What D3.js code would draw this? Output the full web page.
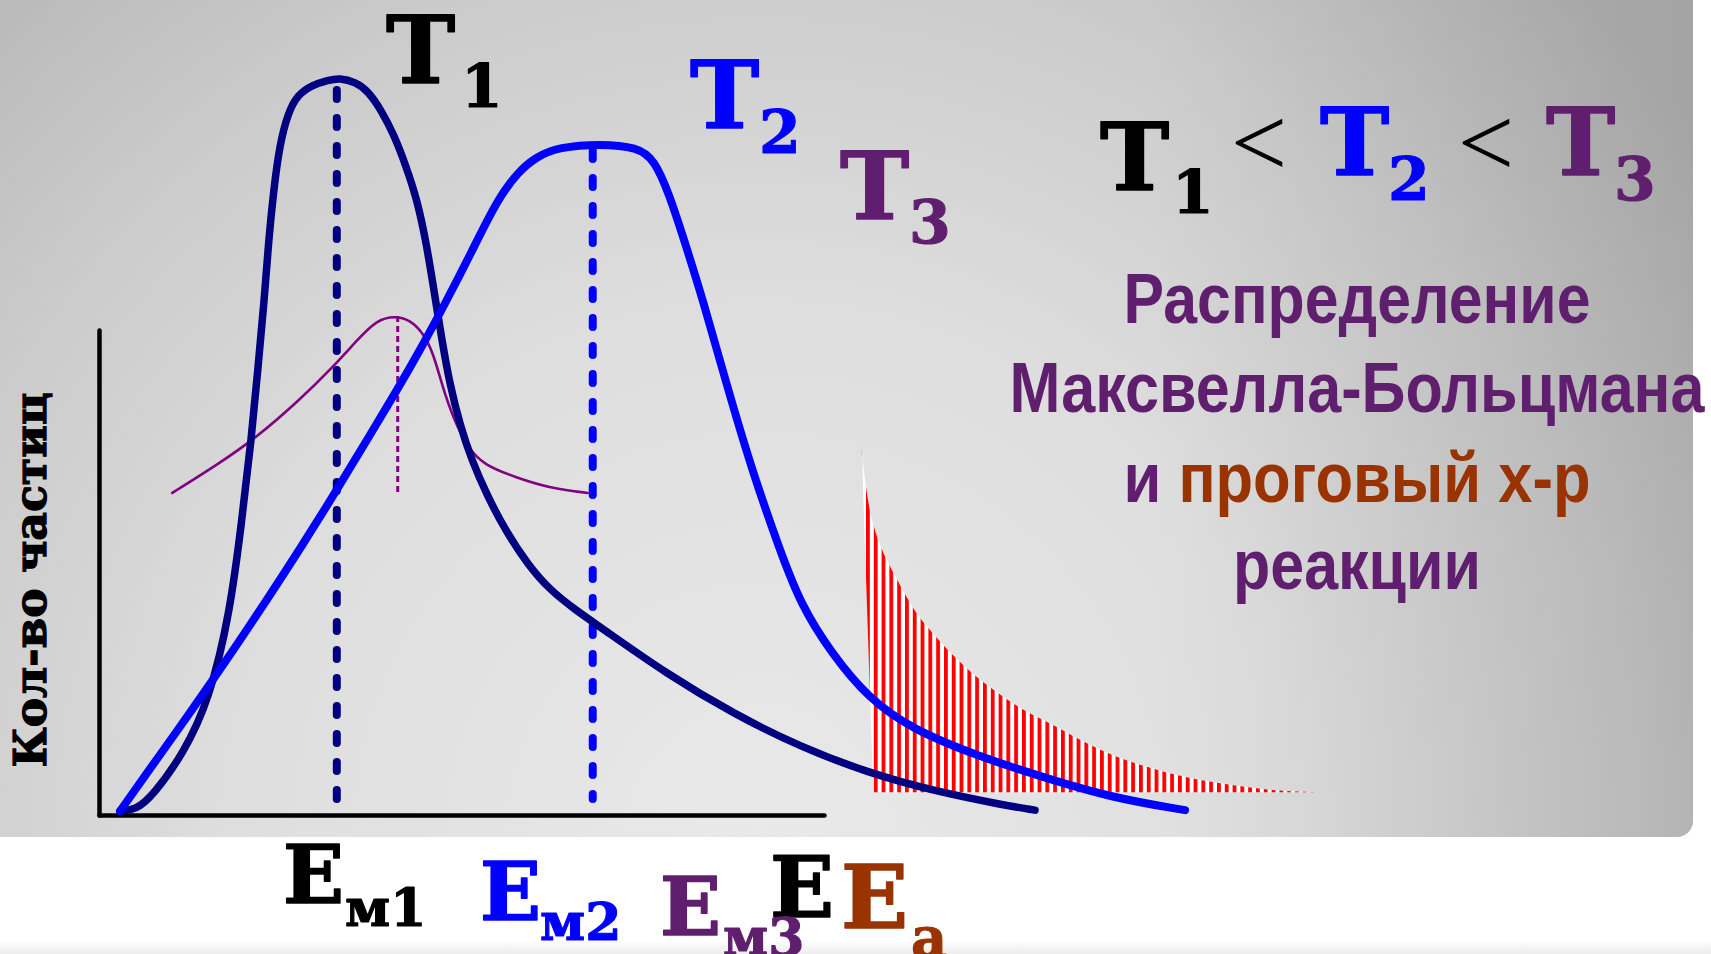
<!DOCTYPE html>
<html>
<head>
<meta charset="utf-8">
<script src="https://cdn.jsdelivr.net/npm/d3@7"></script>
<style>
  body { margin: 0; background: #ffffff; }
  svg { display: block; }
</style>
</head>
<body>
<svg id="drawing_region"></svg>
<script>
// energy (x) and particle count (y), in axis units: axis box is 0..100 on both
const energyT1 = [2.9, 5.0, 7.4, 11.7, 15.2, 18.1, 19.7, 21.0, 21.9, 22.8, 23.4, 24.1, 24.9, 26.1, 27.4, 29.4, 31.6, 33.2, 35.4, 37.1, 38.9, 40.7, 42.3, 43.9, 45.2, 46.2, 47.3, 48.4, 49.8, 51.4, 53.5, 56.0, 59.2, 62.2, 65.7, 69.1, 78.3, 87.6, 96.8, 106.1, 115.3, 124.6, 129.1];
const countT1  = [0.8, 1.0, 3.9, 12.8, 23.7, 41.9, 60.8, 77.3, 91.8, 106.2, 118.6, 128.9, 138.1, 144.9, 148.5, 150.5, 151.5, 152.0, 151.1, 149.3, 145.4, 140.2, 134.0, 126.8, 117.5, 108.2, 97.9, 88.7, 80.4, 73.2, 66.0, 58.8, 51.5, 46.4, 42.3, 38.8, 29.1, 20.8, 14.0, 8.7, 4.9, 2.1, 1.0];

const energyT2 = [2.9, 8.4, 12.7, 18.1, 23.3, 27.7, 32.8, 37.4, 41.1, 44.3, 48.0, 51.2, 54.9, 57.8, 60.3, 63.4, 69.1, 74.3, 76.6, 78.6, 80.7, 83.3, 86.5, 90.1, 93.8, 96.8, 101.1, 106.1, 112.1, 121.5, 130.6, 139.9, 149.8];
const countT2  = [0.8, 12.4, 21.4, 33.0, 44.7, 54.8, 67.0, 78.4, 87.6, 95.9, 106.2, 115.5, 126.8, 132.6, 135.7, 137.7, 138.4, 137.7, 135.1, 128.2, 118.6, 106.2, 89.1, 70.9, 55.1, 43.3, 33.2, 24.1, 17.7, 12.0, 7.6, 3.5, 1.0];

const energyT3 = [10.1, 16.3, 21.8, 27.7, 32.3, 35.6, 38.3, 40.8, 42.9, 44.7, 46.1, 47.4, 48.8, 50.8, 53.0, 57.7, 62.2, 67.4];
const countT3  = [66.4, 72.2, 77.9, 85.6, 92.4, 97.9, 102.1, 102.9, 102.1, 99.4, 95.3, 88.2, 82.1, 75.9, 72.2, 69.5, 67.4, 66.4];

// particles above the activation energy (hatched tail)
const energyTail = [105.2, 105.9, 106.8, 108.1, 110.1, 112.3, 114.6, 117.4, 120.6, 123.9, 127.4, 131.2, 135.7, 140.4, 145.0, 149.5, 154.2, 158.8, 163.3, 168.0];
const countTail  = [75.3, 65.6, 59.4, 54.0, 48.5, 42.3, 38.1, 33.4, 28.9, 25.2, 21.6, 19.0, 15.1, 11.8, 9.7, 7.8, 6.6, 5.6, 4.9, 4.7];
const tailBase = 4.7;
const tailStart = 106.8;

// most probable energies (dashed drop lines): energy, top count, bottom count
const dropEnergy = [32.8, 68.1, 41.2];
const dropTop    = [149.5, 137.1, 102.9];
const dropBottom = [3.3, 3.3, 66.4];

const tempNames = ["T", "T", "T"];
const tempSubs  = ["1", "2", "3"];
const energySubs = ["м1", "м2", "м3"];
const titleLines = ["Распределение", "Максвелла-Больцмана"];
const yLabel = "Кол-во частиц";

const navy = "#000080", blue = "#0000ff", purple = "#800080",
      textPurple = "#601f6e", brown = "#993300";
const serif = "'DejaVu Serif', 'Liberation Serif', serif";
const narrow = "'Liberation Sans Narrow', 'Arial Narrow', 'Liberation Sans', Arial, sans-serif";

const config = {
    parent: '#drawing_region',
    width: 1711,
    height: 954,
    panel: {right: 1693, bottom: 837, radius: 16},
    axis: {left: 99, right: 824, top: 330, bottom: 815}
};

class MaxwellChart {
    constructor(config) {
        this.config = config;
        this.init();
    }

    init() {
        let self = this;
        const c = self.config;

        self.svg = d3.select(c.parent)
            .attr('width', c.width)
            .attr('height', c.height);

        const defs = self.svg.append('defs');

        const bg = defs.append('radialGradient')
            .attr('id', 'bg')
            .attr('gradientUnits', 'userSpaceOnUse')
            .attr('cx', 760).attr('cy', 840).attr('r', 1180);
        [[0, '#e9e9e9'], [0.45, '#dedede'], [0.75, '#cbcbcb'], [1, '#b6b6b6']]
            .forEach(s => bg.append('stop').attr('offset', s[0]).attr('stop-color', s[1]));

        const shade = defs.append('linearGradient')
            .attr('id', 'shade')
            .attr('gradientUnits', 'userSpaceOnUse')
            .attr('x1', 1150).attr('x2', 1693).attr('y1', 0).attr('y2', 0);
        shade.append('stop').attr('offset', 0).attr('stop-color', '#000').attr('stop-opacity', 0);
        shade.append('stop').attr('offset', 1).attr('stop-color', '#000').attr('stop-opacity', 0.1);

        const foot = defs.append('linearGradient')
            .attr('id', 'foot')
            .attr('x1', 0).attr('x2', 0).attr('y1', 0).attr('y2', 1);
        foot.append('stop').attr('offset', 0).attr('stop-color', '#ffffff');
        foot.append('stop').attr('offset', 1).attr('stop-color', '#ececec');

        const hatch = defs.append('pattern')
            .attr('id', 'hatch')
            .attr('patternUnits', 'userSpaceOnUse')
            .attr('x', 866).attr('y', 0)
            .attr('width', 7.8).attr('height', 20);
        hatch.append('rect').attr('width', 7.8).attr('height', 20).attr('fill', '#ffffff');
        hatch.append('rect').attr('width', 3.8).attr('height', 20).attr('fill', '#ff0000');

        // panel
        self.svg.append('rect')
            .attr('x', -30).attr('y', -30)
            .attr('width', c.panel.right + 30).attr('height', c.panel.bottom + 30)
            .attr('rx', c.panel.radius)
            .attr('fill', 'url(#bg)');
        self.svg.append('rect')
            .attr('x', -30).attr('y', -30)
            .attr('width', c.panel.right + 30).attr('height', c.panel.bottom + 30)
            .attr('rx', c.panel.radius)
            .attr('fill', 'url(#shade)');
        self.svg.append('rect')
            .attr('x', 0).attr('y', 940)
            .attr('width', c.width).attr('height', 14)
            .attr('fill', 'url(#foot)');

        self.xscale = d3.scaleLinear()
            .domain([0, 100])
            .range([c.axis.left, c.axis.right]);
        self.yscale = d3.scaleLinear()
            .domain([0, 100])
            .range([c.axis.bottom, c.axis.top]);

        self.chart = self.svg.append('g');
    }

    render() {
        let self = this;
        const x = self.xscale, y = self.yscale;

        // axes (no ticks, just the two lines)
        const xaxis = d3.axisBottom(x).ticks(0).tickSize(0).tickSizeOuter(0);
        const yaxis = d3.axisLeft(y).ticks(0).tickSize(0).tickSizeOuter(0);
        const gx = self.chart.append('g')
            .attr('transform', `translate(0, ${self.config.axis.bottom})`)
            .call(xaxis);
        const gy = self.chart.append('g')
            .attr('transform', `translate(${self.config.axis.left}, 0)`)
            .call(yaxis);
        [gx, gy].forEach(g => g.select('.domain')
            .attr('stroke', '#000')
            .attr('stroke-width', 4.5)
            .attr('stroke-linecap', 'round'));

        // hatched tail beyond Ea
        const tail = energyTail.map((e, i) => ({e: e, n: countTail[i]}));
        const area = d3.area()
            .x0(d => x(Math.max(d.e, tailStart)))
            .x1(d => x(d.e))
            .y0(y(tailBase))
            .y1(d => y(d.n))
            .curve(d3.curveBasis);
        self.chart.append('path')
            .datum(tail)
            .attr('d', area)
            .attr('fill', 'url(#hatch)');

        const line = d3.line()
            .x(d => x(d.e))
            .y(d => y(d.n))
            .curve(d3.curveBasis);

        const curves = [
            {e: energyT3, n: countT3, color: purple, w: 2.6},
            {e: energyT1, n: countT1, color: navy, w: 7.5},
            {e: energyT2, n: countT2, color: blue, w: 8}
        ];

        // drop lines
        const drops = [
            {color: navy, w: 8, dash: '9,19'},
            {color: blue, w: 8, dash: '9,19'},
            {color: purple, w: 3, dash: '6,4'}
        ];
        drops.forEach((d, i) => {
            self.chart.append('line')
                .attr('x1', x(dropEnergy[i])).attr('x2', x(dropEnergy[i]))
                .attr('y1', y(dropTop[i])).attr('y2', y(dropBottom[i]))
                .attr('stroke', d.color)
                .attr('stroke-width', d.w)
                .attr('stroke-dasharray', d.dash)
                .attr('stroke-linecap', i < 2 ? 'round' : 'butt');
        });

        curves.forEach(cv => {
            const pts = cv.e.map((e, i) => ({e: e, n: cv.n[i]}));
            self.chart.append('path')
                .datum(pts)
                .attr('d', line)
                .attr('fill', 'none')
                .attr('stroke', cv.color)
                .attr('stroke-width', cv.w)
                .attr('stroke-linecap', 'round')
                .attr('stroke-linejoin', 'round');
        });

        self.drawText();
    }

    label(g, txt, px, py, size, color, family, weight) {
        return g.append('text')
            .attr('x', px).attr('y', py)
            .attr('font-family', family || serif)
            .attr('font-weight', weight || 'bold')
            .attr('font-size', size)
            .attr('fill', color)
            .text(txt);
    }

    // heavy serif letters, slightly thickened to look like the bold slab face
    heavy(g, txt, px, py, size, color) {
        return this.label(g, txt, px, py, size, color)
            .attr('stroke', color)
            .attr('stroke-width', size > 70 ? 1.6 : 1.1)
            .attr('stroke-linejoin', 'round');
    }

    drawText() {
        let self = this;
        const g = self.svg.append('g');
        const tempColors = ['#000000', blue, textPurple];

        // T labels near the curves
        const tPos = [[386, 83, 461, 107], [690, 128, 759, 153], [840, 219, 909, 243]];
        tPos.forEach((p, i) => {
            self.heavy(g, tempNames[i], p[0], p[1], 93, tempColors[i]);
            self.heavy(g, tempSubs[i], p[2], p[3], 60, tempColors[i]);
        });

        // T1 < T2 < T3
        const iPos = [[1100, 190, 1172, 213], [1320, 175, 1388, 200], [1546, 175, 1614, 200]];
        iPos.forEach((p, i) => {
            self.heavy(g, tempNames[i], p[0], p[1], 93, tempColors[i]);
            self.heavy(g, tempSubs[i], p[2], p[3], 60, tempColors[i]);
        });
        [1259, 1486].forEach(cx => {
            self.label(g, '<', cx, 176, 100, '#000', "'Liberation Serif', serif", 'normal')
                .attr('text-anchor', 'middle');
        });

        // title block
        const tx = 1357;
        self.label(g, titleLines[0], tx, 323, 70, textPurple, narrow)
            .attr('text-anchor', 'middle')
            .attr('textLength', 467).attr('lengthAdjust', 'spacingAndGlyphs');
        self.label(g, titleLines[1], tx, 412, 70, textPurple, narrow)
            .attr('text-anchor', 'middle')
            .attr('textLength', 695).attr('lengthAdjust', 'spacingAndGlyphs');
        const l3 = self.label(g, '', tx, 502, 70, textPurple, narrow)
            .attr('text-anchor', 'middle')
            .attr('textLength', 467).attr('lengthAdjust', 'spacingAndGlyphs');
        l3.append('tspan').attr('fill', textPurple).text('и ');
        l3.append('tspan').attr('fill', brown).text('проговый х-р');
        self.label(g, 'реакции', tx, 589, 70, textPurple, narrow)
            .attr('text-anchor', 'middle')
            .attr('textLength', 248).attr('lengthAdjust', 'spacingAndGlyphs');

        // y label
        g.append('text')
            .attr('transform', 'translate(46, 580) rotate(-90)')
            .attr('text-anchor', 'middle')
            .attr('font-family', serif)
            .attr('font-weight', 'bold')
            .attr('font-size', 44)
            .attr('textLength', 375).attr('lengthAdjust', 'spacingAndGlyphs')
            .attr('fill', '#000')
            .attr('stroke', '#000')
            .attr('stroke-width', 1.2)
            .text(yLabel);

        // energy labels under the axis
        const eColors = ['#000000', blue, textPurple];
        const ePos = [[283, 903, 345, 926], [480, 920, 540, 940], [660, 935, 723, 955]];
        self.heavy(g, 'E', 770, 917, 84, '#000');
        ePos.forEach((p, i) => {
            self.heavy(g, 'E', p[0], p[1], 80, eColors[i]);
            self.heavy(g, energySubs[i], p[2], p[3], 52, eColors[i]);
        });
        self.heavy(g, 'E', 841, 928, 88, brown);
        self.heavy(g, 'a', 911, 957, 56, brown);
    }
}

const chart = new MaxwellChart(config);
chart.render();
</script>
</body>
</html>
